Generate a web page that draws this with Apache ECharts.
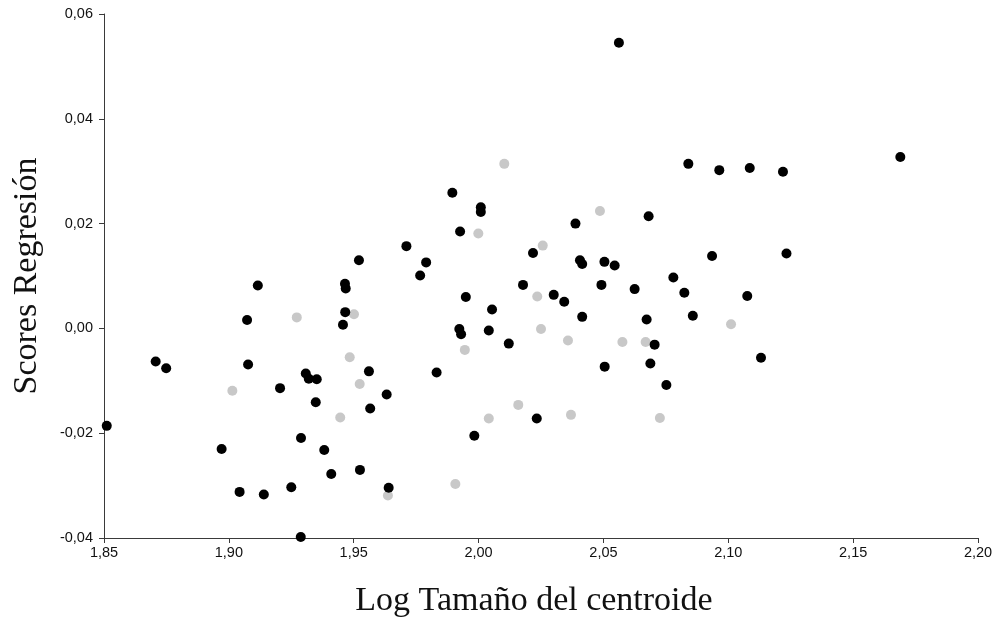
<!DOCTYPE html>
<html><head><meta charset="utf-8">
<script src="https://cdn.jsdelivr.net/npm/echarts@6/dist/echarts.min.js"></script>
<style>html,body{margin:0;padding:0;background:#fff}#c{width:999px;height:627px}</style>
</head><body><div id="c"></div>
<script>
// Group 1 (black points): [Log centroid size, regression score]
var blackX = [1.8511,1.8707,1.8749,1.8971,1.9043,1.9140,1.9116,1.9073,1.9077,1.9205,1.9308,1.9320,1.9352,1.9348,1.9289,1.9382,1.9410,1.9250,1.9288,1.9457,1.9465,1.9468,1.9466,1.9521,1.9711,1.9790,1.9766,1.9895,2.0009,2.0009,1.9926,1.9949,1.9923,1.9930,2.0054,2.0041,2.0121,1.9561,1.9566,1.9632,1.9525,1.9640,1.9832,1.9983,2.0233,2.0178,2.0218,2.0388,2.0301,2.0343,2.0406,2.0415,2.0415,2.0504,2.0545,2.0492,2.0625,2.0681,2.0562,2.0505,2.0673,2.0705,2.0688,2.0752,2.0780,2.0824,2.0858,2.0840,2.0964,2.1086,2.1219,2.1689,2.0935,2.1233,2.1076,2.1131];
var blackY = [-0.0186,-0.0063,-0.0076,-0.0230,-0.0312,-0.0317,0.0082,0.0016,-0.0069,-0.0114,-0.0086,-0.0096,-0.0097,-0.0141,-0.0209,-0.0232,-0.0278,-0.0303,-0.0398,0.0007,0.0085,0.0076,0.0031,0.0130,0.0157,0.0126,0.0101,0.0259,0.0231,0.0222,0.0185,0.0060,-0.0001,-0.0011,0.0036,-0.0004,-0.0029,-0.0082,-0.0153,-0.0126,-0.0270,-0.0304,-0.0084,-0.0205,-0.0172,0.0083,0.0144,0.0200,0.0064,0.0051,0.0130,0.0123,0.0022,0.0127,0.0120,0.0083,0.0075,0.0214,0.0545,-0.0073,0.0017,-0.0031,-0.0067,-0.0108,0.0097,0.0068,0.0024,0.0314,0.0302,0.0306,0.0299,0.0327,0.0138,0.0143,0.0062,-0.0056];
// Group 2 (grey points)
var greyX = [1.9014,1.9272,1.9446,1.9501,1.9484,1.9524,1.9637,1.9907,1.9999,2.0103,1.9945,2.0041,2.0159,2.0257,2.0235,2.0250,2.0358,2.0370,2.0486,2.0576,2.0669,2.0726,2.1011];
var greyY = [-0.0119,0.0021,-0.0170,0.0027,-0.0055,-0.0106,-0.0319,-0.0297,0.0181,0.0314,-0.0041,-0.0172,-0.0146,0.0158,0.0061,-0.0001,-0.0023,-0.0165,0.0224,-0.0026,-0.0026,-0.0171,0.0008];
var xTitle = 'Log Tamaño del centroide';
var yTitle = 'Scores Regresión';

function pairs(xs, ys){ return xs.map(function(x,i){ return [x, ys[i]]; }); }
function comma(v){ return v.toFixed(2).replace('.', ','); }

var chart = echarts.init(document.getElementById('c'), null, {renderer:'canvas'});
var axisCommon = {
  axisLine:{show:true,onZero:false,lineStyle:{color:'#3a3a3a',width:1}},
  axisTick:{show:true,length:5,lineStyle:{color:'#3a3a3a'}},
  splitLine:{show:false},
  nameLocation:'middle'
};
chart.setOption({
  animation:false,
  backgroundColor:'#fff',
  grid:{left:104,right:21,top:14,bottom:89,containLabel:false},
  xAxis:Object.assign({}, axisCommon, {
    type:'value', min:1.85, max:2.20, interval:0.05,
    name:xTitle, nameGap:46,
    nameTextStyle:{fontFamily:'Liberation Serif',fontSize:34,color:'#111',padding:[0,14,0,0]},
    axisLabel:{formatter:comma,fontFamily:'Liberation Sans',fontSize:14.5,color:'#111',margin:7}
  }),
  yAxis:Object.assign({}, axisCommon, {
    type:'value', min:-0.04, max:0.06, interval:0.02,
    name:yTitle, nameGap:60,
    nameTextStyle:{fontFamily:'Liberation Serif',fontSize:34,color:'#111'},
    axisLabel:{formatter:comma,fontFamily:'Liberation Sans',fontSize:14.5,color:'#111',margin:11}
  }),
  series:[
    {type:'scatter',data:pairs(greyX,greyY),symbolSize:10,itemStyle:{color:'#c8c8c8',opacity:1}},
    {type:'scatter',data:pairs(blackX,blackY),symbolSize:10,itemStyle:{color:'#000',opacity:1}}
  ]
});
</script></body></html>
